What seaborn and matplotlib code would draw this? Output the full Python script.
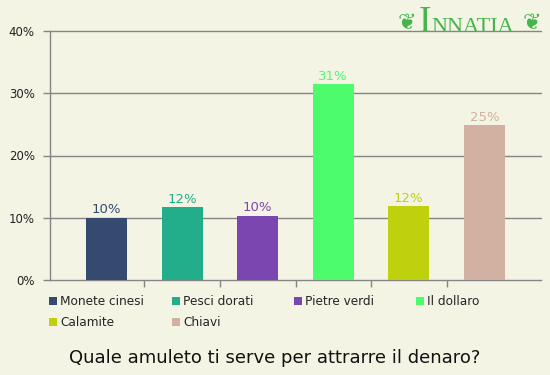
import matplotlib
matplotlib.use("Agg")
import seaborn as sns
from matplotlib import pyplot as plt
from matplotlib.patches import Patch

categories = ["Monete cinesi", "Pesci dorati", "Pietre verdi", "Il dollaro", "Calamite", "Chiavi"]
values = [10.0, 11.7, 10.3, 31.5, 11.9, 24.9]
labels = ["10%", "12%", "10%", "31%", "12%", "25%"]
colors = ["#364a70", "#22ae8b", "#7c46b0", "#4cfc6c", "#bfd10c", "#d3b1a2"]
y_ticks = [0, 10, 20, 30, 40]
y_tick_labels = ["0%", "10%", "20%", "30%", "40%"]
title = "Quale amuleto ti serve per attrarre il denaro?"

BG = "#f3f4e3"
GRID = "#858585"
LOGO = "#45b54e"

sns.set_theme(style="white")
plt.rcParams["font.family"] = ["DejaVu Sans"]

fig = plt.figure(figsize=(5.5, 3.75), dpi=100, facecolor=BG)
ax = fig.add_axes([50 / 550, 1 - 280 / 375, 491 / 550, 249 / 375])
ax.set_facecolor(BG)

sns.barplot(x=categories, y=values, hue=categories, palette=colors, width=0.54,
            legend=False, saturation=1, linewidth=0, edgecolor="none", ax=ax, zorder=3)

for bar, lab, col in zip(ax.patches, labels, colors):
    ax.annotate(lab, (bar.get_x() + bar.get_width() / 2, bar.get_height()),
                xytext=(0, 1), textcoords="offset points", ha="center", va="bottom",
                fontsize=9.5, color=col, zorder=4)

ax.set_xlim(-0.75, 5.75)
ax.set_ylim(0, 40)
ax.set_yticks(y_ticks, y_tick_labels, fontsize=8.5, color="#222222")
ax.set_xticks([0.5, 1.5, 2.5, 3.5, 4.5], [""] * 5)
for y in y_ticks[1:]:
    ax.axhline(y, color=GRID, lw=1, zorder=1, clip_on=False)
ax.tick_params(axis="both", which="major", length=5, width=1, color=GRID,
               bottom=True, left=True)
ax.tick_params(axis="y", pad=6)
for side in ["top", "right"]:
    ax.spines[side].set_visible(False)
for side in ["left", "bottom"]:
    ax.spines[side].set_color(GRID)
    ax.spines[side].set_linewidth(1)
ax.set_xlabel("")
ax.set_ylabel("")

# legend, laid out in rows of four like the original
cols = [[0, 4], [1, 5], [2], [3]]
col_x = [49, 172, 294, 416]
for idx, x in zip(cols, col_x):
    handles = [Patch(facecolor=colors[i], edgecolor="none", label=categories[i]) for i in idx]
    fig.legend(handles=handles, loc="upper left", bbox_to_anchor=(x / 550, 1 - 295 / 375),
               frameon=False, fontsize=8.7, handlelength=0.65, handleheight=0.65,
               handletextpad=0.3, labelspacing=0.65, borderaxespad=0, borderpad=0)

fig.text(0.5, 1 - 358 / 375, title, ha="center", va="center", fontsize=13, color="#111111")

# site logo
fig.text(419 / 550, 1 - 32 / 375, "I", ha="left", va="baseline", fontsize=27,
         color=LOGO, family="Liberation Serif")
fig.text(431 / 550, 1 - 32 / 375, "NNATIA", ha="left", va="baseline", fontsize=16,
         color=LOGO, family="Liberation Serif")
fig.text(407 / 550, 1 - 23 / 375, "\u2766", ha="center", va="center", fontsize=16,
         color=LOGO, family="DejaVu Sans")
fig.text(532 / 550, 1 - 23 / 375, "\u2766", ha="center", va="center", fontsize=16,
         color=LOGO, family="DejaVu Sans")

fig.savefig("out.png", dpi=100, facecolor=BG)
